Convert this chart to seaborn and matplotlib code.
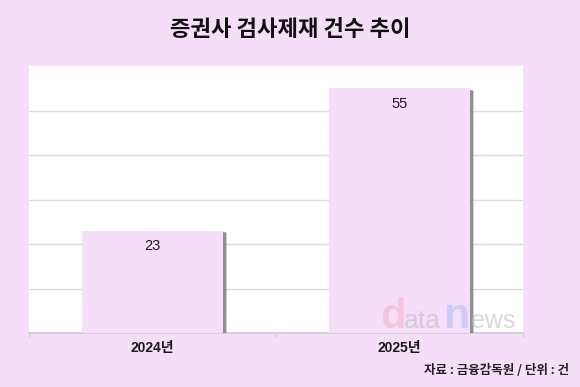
import matplotlib
matplotlib.use("Agg")
import matplotlib.pyplot as plt
import matplotlib.patheffects as pe
import seaborn as sns
import pandas as pd

categories = ["2024년", "2025년"]
values = [23, 55]
title = "증권사 검사제재 건수 추이"
source = "자료 : 금융감독원 / 단위 : 건"

sns.set_theme(style="white")
plt.rcParams['font.family'] = ['Noto Sans CJK KR', 'DejaVu Sans']
latin = ['Liberation Sans', 'Noto Sans CJK KR']

bg = "#F5DFF8"
fig = plt.figure(figsize=(5.8, 3.87), dpi=100, facecolor=bg)
ax = fig.add_axes([29/580, 1-333/387, (523-29)/580, (333-66)/387])
ax.set_facecolor("white")

df = pd.DataFrame({"cat": categories, "val": values})
sns.barplot(data=df, x="cat", y="val", ax=ax, color=bg, width=0.57,
            saturation=1, edgecolor="none")
for p in ax.patches:
    p.set_facecolor(bg)
    p.set_path_effects([
        pe.SimplePatchShadow(offset=(3, -2), shadow_rgbFace="#777777", alpha=0.35),
        pe.SimplePatchShadow(offset=(2, -1), shadow_rgbFace="#555555", alpha=0.5),
        pe.Normal()])
    p.set_zorder(3)

ax.set_ylim(0, 60)
ax.set_xlim(-0.5, 1.5)
ax.set_yticks([10, 20, 30, 40, 50])
ax.yaxis.grid(True, color="#DCDCDC", linewidth=1.0)
ax.set_axisbelow(True)
ax.tick_params(axis="y", left=False, labelleft=False)
ax.set_xticks([0, 1])
ax.set_xticklabels(categories, fontsize=10, fontweight="bold", color="#1a1a1a",
                   family=latin)
ax.tick_params(axis="x", which="major", length=0, pad=6)
ax.set_xticks([-0.5, 0.5, 1.5], minor=True)
ax.tick_params(axis="x", which="minor", bottom=True, length=3, color="#D0D0D0", width=1)
for s in ["left", "right", "top"]:
    ax.spines[s].set_visible(False)
ax.spines["bottom"].set_color("#D0D0D0")
ax.set_xlabel("")
ax.set_ylabel("")

for i, v in enumerate(values):
    ax.text(i, v - 1.9, str(v), ha="center", va="top", fontsize=10.5,
            color="#1a1a1a", zorder=5, family=latin)

# watermark
def px(x, y):
    return x/580, 1 - y/387
wm_y = 328
fig.text(*px(380, wm_y), "d", fontsize=30, color="#F2B6C9", alpha=0.6,
         fontweight="bold", family=latin, va="baseline", ha="left")
fig.text(*px(404, wm_y), "ata", fontsize=19, color="#BBBBBB", alpha=0.55,
         family=latin, va="baseline", ha="left")
fig.text(*px(443, wm_y), "n", fontsize=31, color="#AEBDF2", alpha=0.55,
         fontweight="bold", family=latin, va="baseline", ha="left")
fig.text(*px(471, wm_y), "ews", fontsize=18, color="#BBBBBB", alpha=0.55,
         family=latin, va="baseline", ha="left")

fig.text(0.5, 1 - 29/387, title, ha="center", va="center", fontsize=16,
         fontweight="black", color="#111111")
fig.text(569/580, 1 - 371/387, source, ha="right", va="center", fontsize=9,
         fontweight="bold", color="#222222")

fig.savefig("out.png", dpi=100, facecolor=bg)
